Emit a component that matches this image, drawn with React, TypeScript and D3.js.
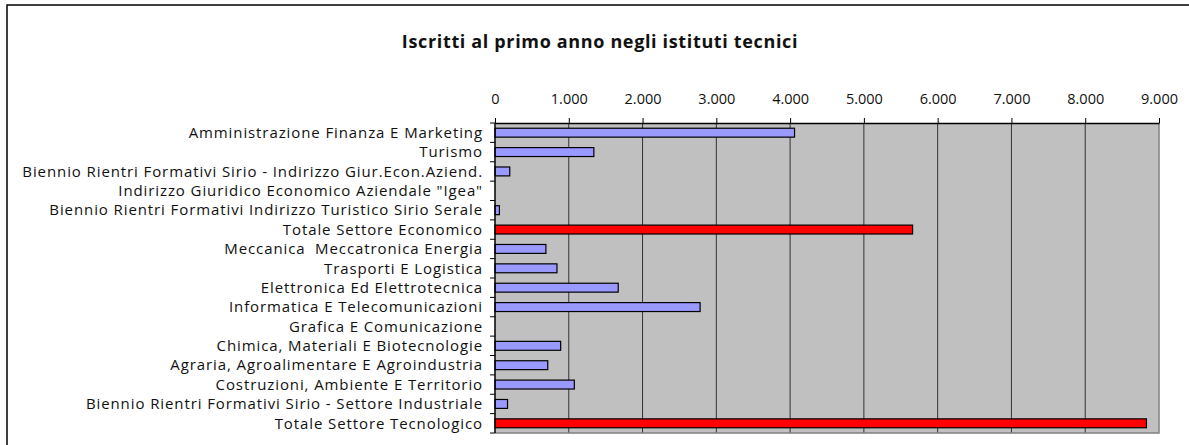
import React, { useEffect, useRef } from 'react';
import * as d3 from 'd3';

const categories = [
  'Amministrazione Finanza E Marketing',
  'Turismo',
  'Biennio Rientri Formativi Sirio - Indirizzo Giur.Econ.Aziend.',
  'Indirizzo Giuridico Economico Aziendale "Igea"',
  'Biennio Rientri Formativi Indirizzo Turistico Sirio Serale',
  'Totale Settore Economico',
  'Meccanica  Meccatronica Energia',
  'Trasporti E Logistica',
  'Elettronica Ed Elettrotecnica',
  'Informatica E Telecomunicazioni',
  'Grafica E Comunicazione',
  'Chimica, Materiali E Biotecnologie',
  'Agraria, Agroalimentare E Agroindustria',
  'Costruzioni, Ambiente E Territorio',
  'Biennio Rientri Formativi Sirio - Settore Industriale',
  'Totale Settore Tecnologico',
];

const iscritti = [4060, 1340, 200, 0, 60, 5660, 690, 840, 1670, 2780, 0, 890, 715, 1075, 170, 8830];

const totali = ['Totale Settore Economico', 'Totale Settore Tecnologico'];

const xTicks = [0, 1000, 2000, 3000, 4000, 5000, 6000, 7000, 8000, 9000];

const title = 'Iscritti al primo anno negli istituti tecnici';

const W = 1189;
const H = 445;
const FONT = 'Open Sans, Noto Sans, sans-serif';

const App: React.FC = () => {
  const svgRef = useRef<SVGSVGElement>(null);

  useEffect(() => {
    if (!svgRef.current) return;
    const svg = d3.select(svgRef.current);
    svg.selectAll('*').remove();

    const plot = { left: 495, right: 1159, top: 123, bottom: 433 };

    const x = d3.scaleLinear().domain([0, 9000]).range([plot.left, plot.right]);
    const y = d3.scaleBand<string>()
      .domain(categories)
      .range([plot.top, plot.bottom])
      .paddingInner(0.54)
      .paddingOuter(0.27);
    const band = d3.scaleBand<string>().domain(categories).range([plot.top, plot.bottom]);

    // outer chart border
    svg.append('rect')
      .attr('x', 7).attr('y', 5)
      .attr('width', W + 20).attr('height', H + 20)
      .attr('fill', '#fff')
      .attr('stroke', '#000')
      .attr('stroke-width', 1.5);

    svg.append('text')
      .attr('x', 600).attr('y', 48)
      .attr('text-anchor', 'middle')
      .attr('font-family', FONT)
      .attr('font-weight', 'bold')
      .attr('font-size', 18)
      .attr('letter-spacing', 0.65)
      .attr('fill', '#111')
      .text(title);

    // plot background
    svg.append('rect')
      .attr('x', plot.left).attr('y', plot.top)
      .attr('width', plot.right - plot.left).attr('height', plot.bottom - plot.top)
      .attr('fill', '#c0c0c0');

    // gridlines
    svg.append('g').selectAll('line')
      .data(xTicks.slice(1, -1))
      .enter().append('line')
      .attr('x1', d => x(d)).attr('x2', d => x(d))
      .attr('y1', plot.top).attr('y2', plot.bottom)
      .attr('stroke', '#333')
      .attr('stroke-width', 1);

    // right/bottom gray frame
    svg.append('path')
      .attr('d', `M${plot.right},${plot.top}V${plot.bottom}H${plot.left}`)
      .attr('fill', 'none')
      .attr('stroke', '#808080')
      .attr('stroke-width', 1.5);

    // bars
    svg.append('g').selectAll('rect')
      .data(categories)
      .enter().append('rect')
      .attr('x', x(0))
      .attr('y', d => y(d) as number)
      .attr('width', (d, i) => Math.max(0, x(iscritti[i]) - x(0)))
      .attr('height', y.bandwidth())
      .attr('fill', d => (totali.includes(d) ? '#ff0000' : '#9999ff'))
      .attr('stroke', '#000')
      .attr('stroke-width', 1.2)
      .attr('display', (d, i) => (iscritti[i] > 0 ? null : 'none'));

    // top axis
    const xAxis = d3.axisTop(x).tickValues(xTicks)
      .tickFormat(d => d3.format(',')(d as number).replace(/,/g, '.'))
      .tickSizeInner(5).tickSizeOuter(0).tickPadding(14);
    const gx = svg.append('g').attr('transform', `translate(0,${plot.top})`).call(xAxis);
    gx.select('.domain').attr('stroke', '#000').attr('stroke-width', 1.5);
    gx.selectAll('.tick line').attr('stroke', '#000');
    gx.selectAll('text')
      .attr('font-family', FONT)
      .attr('font-size', 14.5)
      .attr('fill', '#111');

    // left axis: tick marks between categories
    const ga = svg.append('g');
    ga.append('line')
      .attr('x1', plot.left).attr('x2', plot.left)
      .attr('y1', plot.top).attr('y2', plot.bottom)
      .attr('stroke', '#000').attr('stroke-width', 1.5);
    const boundaries = [plot.top, ...categories.map(c => (band(c) as number) + band.bandwidth())];
    ga.selectAll('line.tk')
      .data(boundaries)
      .enter().append('line')
      .attr('class', 'tk')
      .attr('x1', plot.left - 5).attr('x2', plot.left)
      .attr('y1', d => d).attr('y2', d => d)
      .attr('stroke', '#000');

    ga.selectAll('text')
      .data(categories)
      .enter().append('text')
      .attr('x', plot.left - 12)
      .attr('y', d => (band(d) as number) + band.bandwidth() / 2)
      .attr('dy', '0.35em')
      .attr('text-anchor', 'end')
      .attr('font-family', FONT)
      .attr('font-size', 15)
      .attr('letter-spacing', 0.9)
      .attr('fill', '#111')
      .style('white-space', 'pre')
      .text(d => d);
  }, []);

  return (
    <svg
      ref={svgRef}
      width={W}
      height={H}
      style={{ position: 'fixed', left: 0, top: 0, background: '#fff' }}
    />
  );
};

export default App;
